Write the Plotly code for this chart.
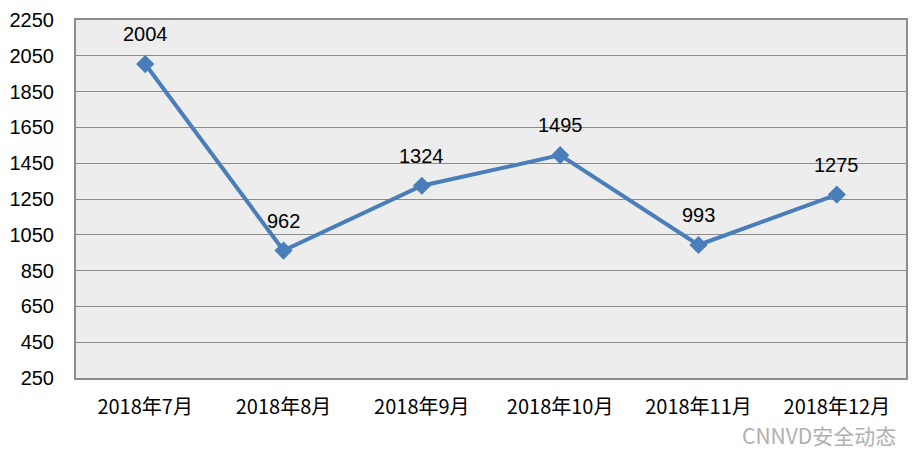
import plotly.graph_objects as go

categories = ["2018年7月", "2018年8月", "2018年9月", "2018年10月", "2018年11月", "2018年12月"]
values = [2004, 962, 1324, 1495, 993, 1275]
y_ticks = [250, 450, 650, 850, 1050, 1250, 1450, 1650, 1850, 2050, 2250]

font_family = "Liberation Sans, Noto Sans CJK SC, sans-serif"

fig = go.Figure()
fig.add_trace(go.Scatter(
    x=categories, y=values,
    mode="lines+markers",
    line=dict(color="#4A7EBB", width=4),
    marker=dict(symbol="diamond", size=14, color="#4A7EBB"),
    cliponaxis=False,
    showlegend=False,
))

annotations = [
    dict(x=c, y=v, text=str(v), showarrow=False, yshift=30,
         font=dict(size=20, color="#000000", family=font_family))
    for c, v in zip(categories, values)
]
annotations.append(dict(
    text="CNNVD安全动态", xref="paper", yref="paper",
    x=0.99, y=-0.16, xanchor="right", yanchor="middle", showarrow=False,
    font=dict(size=21, color="#B0B0B0", family="Noto Sans CJK SC, sans-serif"),
))

fig.update_layout(
    width=916, height=476,
    margin=dict(l=68, r=18, t=12, b=106),
    paper_bgcolor="#FFFFFF",
    plot_bgcolor="#EDEDED",
    font=dict(family=font_family, size=20, color="#000000"),
    xaxis=dict(
        type="category",
        range=[-0.5, 5.5],
        automargin=False,
        showgrid=False,
        showline=True, linecolor="#8C8C8C", linewidth=2, mirror=True,
        ticks="", tickfont=dict(size=20, family="Noto Sans CJK SC, Liberation Sans, sans-serif"),
        ticklabelstandoff=10,
    ),
    yaxis=dict(
        range=[250, 2250],
        tickvals=y_ticks,
        automargin=False,
        showgrid=True, gridcolor="#8C8C8C", gridwidth=1,
        showline=True, linecolor="#8C8C8C", linewidth=2, mirror=True,
        ticks="", tickfont=dict(size=20),
        ticklabelstandoff=16,
        zeroline=False,
    ),
    annotations=annotations,
)

fig.write_html("out.html")
